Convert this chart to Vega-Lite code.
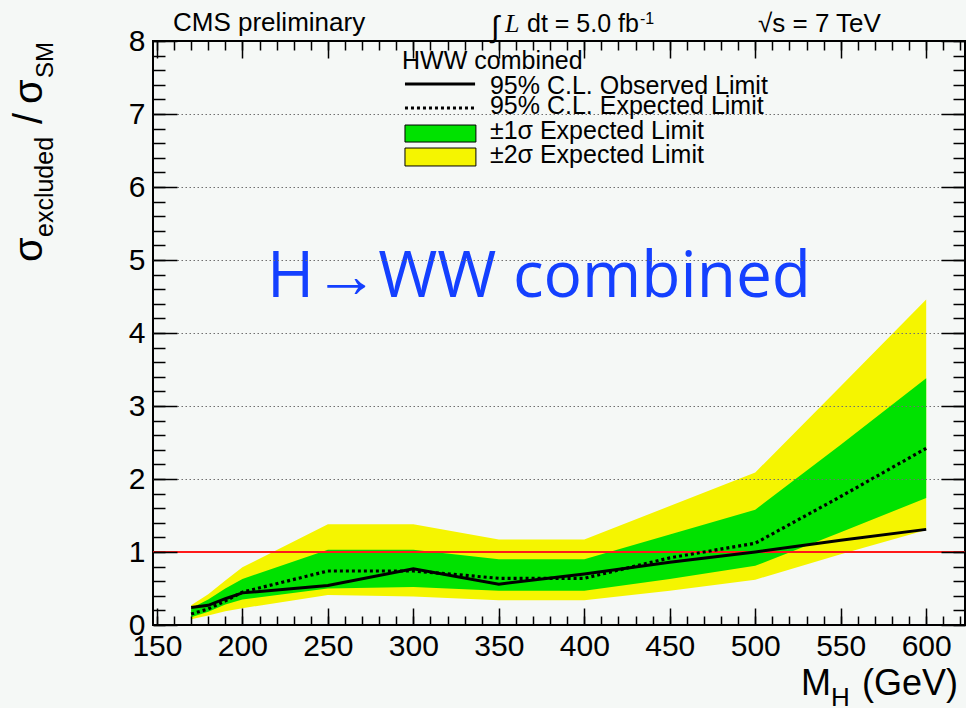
{
 "$schema": "https://vega.github.io/schema/vega-lite/v6.json",
 "width": 812, "height": 584,
 "autosize": {"type": "none"},
 "padding": {"left": 153, "top": 41, "right": 1, "bottom": 83},
 "background": "#f5f8f6",
 "config": {
  "view": {"stroke": "#000", "strokeWidth": 2, "fill": "#f5f8f6"},
  "axis": {"labelFont": "Liberation Sans", "labelColor": "#000", "tickColor": "#000", "tickWidth": 1.5, "domain": false, "grid": false, "labelFlush": false, "labelOverlap": false}
 },
 "datasets": {
  "lim": [
   {"mass": 170, "obs": 0.24, "exp": 0.15, "m2": 0.08, "m1": 0.105, "p1": 0.23, "p2": 0.27},
   {"mass": 180, "obs": 0.27, "exp": 0.22, "m2": 0.13, "m1": 0.18, "p1": 0.35, "p2": 0.42},
   {"mass": 190, "obs": 0.36, "exp": 0.33, "m2": 0.19, "m1": 0.28, "p1": 0.50, "p2": 0.61},
   {"mass": 200, "obs": 0.44, "exp": 0.45, "m2": 0.23, "m1": 0.35, "p1": 0.63, "p2": 0.79},
   {"mass": 250, "obs": 0.54, "exp": 0.74, "m2": 0.41, "m1": 0.50, "p1": 1.03, "p2": 1.38},
   {"mass": 300, "obs": 0.77, "exp": 0.74, "m2": 0.39, "m1": 0.52, "p1": 1.03, "p2": 1.38},
   {"mass": 350, "obs": 0.56, "exp": 0.64, "m2": 0.34, "m1": 0.47, "p1": 0.90, "p2": 1.17},
   {"mass": 400, "obs": 0.70, "exp": 0.64, "m2": 0.34, "m1": 0.47, "p1": 0.90, "p2": 1.17},
   {"mass": 450, "obs": 0.86, "exp": 0.92, "m2": 0.47, "m1": 0.63, "p1": 1.24, "p2": 1.63},
   {"mass": 500, "obs": 1.00, "exp": 1.12, "m2": 0.62, "m1": 0.81, "p1": 1.58, "p2": 2.09},
   {"mass": 550, "obs": 1.16, "exp": 1.76, "m2": 0.97, "m1": 1.27, "p1": 2.47, "p2": 3.27},
   {"mass": 600, "obs": 1.31, "exp": 2.42, "m2": 1.30, "m1": 1.74, "p1": 3.38, "p2": 4.46}
  ]
 },
 "resolve": {"axis": {"x": "independent", "y": "independent"}},
 "layer": [
  {"data": {"name": "lim"}, "mark": {"type": "area", "color": "#f5f500"},
   "encoding": {
    "x": {"field": "mass", "type": "quantitative", "scale": {"domain": [147.7, 622.7], "nice": false, "zero": false},
          "axis": {"orient": "bottom", "values": [150, 200, 250, 300, 350, 400, 450, 500, 550, 600], "ticks": false, "labelFontSize": 30, "labelPadding": 6, "title": null}},
    "y": {"field": "p2", "type": "quantitative", "scale": {"domain": [0, 8], "nice": false, "zero": false},
          "axis": {"orient": "left", "values": [0, 1, 2, 3, 4, 5, 6, 7, 8], "ticks": false, "labelFontSize": 30, "labelPadding": 8, "title": null}},
    "y2": {"field": "m2"}
   }},
  {"data": {"name": "lim"}, "mark": {"type": "area", "color": "#00e200"},
   "encoding": {
    "x": {"field": "mass", "type": "quantitative", "scale": {"domain": [147.7, 622.7], "nice": false, "zero": false},
          "axis": {"orient": "bottom", "values": [150, 200, 250, 300, 350, 400, 450, 500, 550, 600], "labels": false, "tickSize": -17, "title": null, "zindex": 1}},
    "y": {"field": "p1", "type": "quantitative", "scale": {"domain": [0, 8], "nice": false, "zero": false},
          "axis": {"orient": "left", "values": [0, 1, 2, 3, 4, 5, 6, 7, 8], "labels": false, "tickSize": -24, "title": null, "zindex": 1}},
    "y2": {"field": "m1"}
   }},
  {"data": {"values": [{}]}, "mark": {"type": "rule", "color": "#ff1a1a", "strokeWidth": 1.8},
   "encoding": {
    "y": {"datum": 1, "type": "quantitative", "scale": {"domain": [0, 8], "nice": false, "zero": false},
          "axis": {"orient": "left", "values": [0,0.2,0.4,0.6,0.8,1,1.2,1.4,1.6,1.8,2,2.2,2.4,2.6,2.8,3,3.2,3.4,3.6,3.8,4,4.2,4.4,4.6,4.8,5,5.2,5.4,5.6,5.8,6,6.2,6.4,6.6,6.8,7,7.2,7.4,7.6,7.8,8], "labels": false, "tickSize": -12, "title": null, "zindex": 1}}
   }},
  {"data": {"name": "lim"}, "mark": {"type": "line", "color": "#000", "strokeWidth": 3.2, "strokeDash": [3, 3]},
   "encoding": {
    "x": {"field": "mass", "type": "quantitative", "scale": {"domain": [147.7, 622.7], "nice": false, "zero": false},
          "axis": {"orient": "bottom", "values": [150,160,170,180,190,200,210,220,230,240,250,260,270,280,290,300,310,320,330,340,350,360,370,380,390,400,410,420,430,440,450,460,470,480,490,500,510,520,530,540,550,560,570,580,590,600,610,620], "labels": false, "tickSize": -9, "title": null, "zindex": 1}},
    "y": {"field": "exp", "type": "quantitative", "scale": {"domain": [0, 8], "nice": false, "zero": false},
          "axis": {"orient": "right", "values": [0, 1, 2, 3, 4, 5, 6, 7, 8], "labels": false, "tickSize": -24, "title": null, "zindex": 1}}
   }},
  {"data": {"name": "lim"}, "mark": {"type": "line", "color": "#000", "strokeWidth": 3},
   "encoding": {
    "x": {"field": "mass", "type": "quantitative", "scale": {"domain": [147.7, 622.7], "nice": false, "zero": false},
          "axis": {"orient": "top", "values": [150, 200, 250, 300, 350, 400, 450, 500, 550, 600], "labels": false, "tickSize": -17, "title": null, "zindex": 1}},
    "y": {"field": "obs", "type": "quantitative", "scale": {"domain": [0, 8], "nice": false, "zero": false},
          "axis": {"orient": "right", "values": [0,0.2,0.4,0.6,0.8,1,1.2,1.4,1.6,1.8,2,2.2,2.4,2.6,2.8,3,3.2,3.4,3.6,3.8,4,4.2,4.4,4.6,4.8,5,5.2,5.4,5.6,5.8,6,6.2,6.4,6.6,6.8,7,7.2,7.4,7.6,7.8,8], "labels": false, "tickSize": -12, "title": null, "zindex": 1}}
   }},
  {"data": {"values": [{}]}, "mark": {"type": "text", "text": "H→WW combined", "align": "center", "baseline": "alphabetic", "font": "Open Sans", "fontSize": 64, "color": "#1440ff"},
   "encoding": {
    "x": {"datum": 373.5, "type": "quantitative", "scale": {"domain": [147.7, 622.7], "nice": false, "zero": false},
          "axis": {"orient": "top", "values": [150,160,170,180,190,200,210,220,230,240,250,260,270,280,290,300,310,320,330,340,350,360,370,380,390,400,410,420,430,440,450,460,470,480,490,500,510,520,530,540,550,560,570,580,590,600,610,620], "labels": false, "tickSize": -9, "title": null, "zindex": 1}},
    "y": {"datum": 4.493, "type": "quantitative", "scale": {"domain": [0, 8], "nice": false, "zero": false},
          "axis": {"orient": "left", "values": [2, 3, 4, 5, 6, 7], "grid": true, "gridDash": [1.5, 2.5], "gridColor": "#707070", "gridWidth": 1, "ticks": false, "labels": false, "title": null, "zindex": 1}}
   }},
  {"data": {"values": [{}]}, "mark": {"type": "rule", "color": "#000", "strokeWidth": 3},
   "encoding": {"x": {"datum": 295.1, "type": "quantitative", "axis": null}, "x2": {"datum": 336.1}, "y": {"datum": 7.411, "type": "quantitative", "axis": null}}},
  {"data": {"values": [{}]}, "mark": {"type": "rule", "color": "#000", "strokeWidth": 3.2, "strokeDash": [3, 3]},
   "encoding": {"x": {"datum": 295.1, "type": "quantitative", "axis": null}, "x2": {"datum": 336.1}, "y": {"datum": 7.082, "type": "quantitative", "axis": null}}},
  {"data": {"values": [{}]}, "mark": {"type": "rect", "color": "#00e200", "stroke": "#000", "strokeWidth": 1},
   "encoding": {"x": {"datum": 295.1, "type": "quantitative", "axis": null}, "x2": {"datum": 336.6}, "y": {"datum": 6.849, "type": "quantitative", "axis": null}, "y2": {"datum": 6.616}}},
  {"data": {"values": [{}]}, "mark": {"type": "rect", "color": "#f5f500", "stroke": "#000", "strokeWidth": 1},
   "encoding": {"x": {"datum": 295.1, "type": "quantitative", "axis": null}, "x2": {"datum": 336.6}, "y": {"datum": 6.534, "type": "quantitative", "axis": null}, "y2": {"datum": 6.288}}},
  {"data": {"values": [{}]}, "mark": {"type": "text", "text": "HWW combined", "align": "left", "baseline": "alphabetic", "font": "Liberation Sans", "fontSize": 25, "color": "#000"},
   "encoding": {"x": {"datum": 293.4, "type": "quantitative", "axis": null}, "y": {"datum": 7.612, "type": "quantitative", "axis": null}}},
  {"data": {"values": [{}]}, "mark": {"type": "text", "text": "95% C.L. Observed Limit", "align": "left", "baseline": "alphabetic", "font": "Liberation Sans", "fontSize": 25, "color": "#000"},
   "encoding": {"x": {"datum": 344.8, "type": "quantitative", "axis": null}, "y": {"datum": 7.274, "type": "quantitative", "axis": null}}},
  {"data": {"values": [{}]}, "mark": {"type": "text", "text": "95% C.L. Expected Limit", "align": "left", "baseline": "alphabetic", "font": "Liberation Sans", "fontSize": 25, "color": "#000"},
   "encoding": {"x": {"datum": 344.8, "type": "quantitative", "axis": null}, "y": {"datum": 7.0, "type": "quantitative", "axis": null}}},
  {"data": {"values": [{}]}, "mark": {"type": "text", "text": "±1σ Expected Limit", "align": "left", "baseline": "alphabetic", "font": "Liberation Sans", "fontSize": 25, "color": "#000"},
   "encoding": {"x": {"datum": 344.8, "type": "quantitative", "axis": null}, "y": {"datum": 6.653, "type": "quantitative", "axis": null}}},
  {"data": {"values": [{}]}, "mark": {"type": "text", "text": "±2σ Expected Limit", "align": "left", "baseline": "alphabetic", "font": "Liberation Sans", "fontSize": 25, "color": "#000"},
   "encoding": {"x": {"datum": 344.8, "type": "quantitative", "axis": null}, "y": {"datum": 6.325, "type": "quantitative", "axis": null}}},
  {"data": {"values": [{}]}, "mark": {"type": "text", "text": "CMS preliminary", "align": "left", "baseline": "alphabetic", "font": "Liberation Sans", "fontSize": 26, "color": "#000"},
   "encoding": {"x": {"datum": 159.4, "type": "quantitative", "axis": null}, "y": {"datum": 8.137, "type": "quantitative", "axis": null}}},
  {"data": {"values": [{}]}, "mark": {"type": "text", "text": "∫", "align": "left", "baseline": "alphabetic", "font": "Liberation Sans", "fontSize": 30, "color": "#000"},
   "encoding": {"x": {"datum": 345.4, "type": "quantitative", "axis": null}, "y": {"datum": 8.055, "type": "quantitative", "axis": null}}},
  {"data": {"values": [{}]}, "mark": {"type": "text", "text": "L", "align": "left", "baseline": "alphabetic", "font": "Liberation Serif", "fontStyle": "italic", "fontSize": 26, "color": "#000"},
   "encoding": {"x": {"datum": 353.6, "type": "quantitative", "axis": null}, "y": {"datum": 8.128, "type": "quantitative", "axis": null}}},
  {"data": {"values": [{}]}, "mark": {"type": "text", "text": "dt = 5.0 fb", "align": "left", "baseline": "alphabetic", "font": "Liberation Sans", "fontSize": 25, "color": "#000"},
   "encoding": {"x": {"datum": 366.5, "type": "quantitative", "axis": null}, "y": {"datum": 8.128, "type": "quantitative", "axis": null}}},
  {"data": {"values": [{}]}, "mark": {"type": "text", "text": "-1", "align": "left", "baseline": "alphabetic", "font": "Liberation Sans", "fontSize": 16, "color": "#000"},
   "encoding": {"x": {"datum": 432.6, "type": "quantitative", "axis": null}, "y": {"datum": 8.233, "type": "quantitative", "axis": null}}},
  {"data": {"values": [{}]}, "mark": {"type": "text", "text": "√s = 7 TeV", "align": "left", "baseline": "alphabetic", "font": "Liberation Sans", "fontSize": 26, "color": "#000"},
   "encoding": {"x": {"datum": 501.6, "type": "quantitative", "axis": null}, "y": {"datum": 8.123, "type": "quantitative", "axis": null}}},
  {"data": {"values": [{}]}, "mark": {"type": "text", "text": "M", "align": "left", "baseline": "alphabetic", "font": "Liberation Sans", "fontSize": 36, "color": "#000"},
   "encoding": {"x": {"datum": 526.8, "type": "quantitative", "axis": null}, "y": {"datum": -0.96, "type": "quantitative", "axis": null}}},
  {"data": {"values": [{}]}, "mark": {"type": "text", "text": "H", "align": "left", "baseline": "alphabetic", "font": "Liberation Sans", "fontSize": 26, "color": "#000"},
   "encoding": {"x": {"datum": 544.3, "type": "quantitative", "axis": null}, "y": {"datum": -1.11, "type": "quantitative", "axis": null}}},
  {"data": {"values": [{}]}, "mark": {"type": "text", "text": "(GeV)", "align": "left", "baseline": "alphabetic", "font": "Liberation Sans", "fontSize": 36, "color": "#000"},
   "encoding": {"x": {"datum": 562.4, "type": "quantitative", "axis": null}, "y": {"datum": -0.96, "type": "quantitative", "axis": null}}},
  {"data": {"values": [{}]}, "mark": {"type": "text", "text": "σ", "angle": 270, "align": "left", "baseline": "alphabetic", "font": "Liberation Sans", "fontSize": 40, "color": "#000"},
   "encoding": {"x": {"datum": 82.8, "type": "quantitative", "axis": null}, "y": {"datum": 4.973, "type": "quantitative", "axis": null}}},
  {"data": {"values": [{}]}, "mark": {"type": "text", "text": "excluded", "angle": 270, "align": "left", "baseline": "alphabetic", "font": "Liberation Sans", "fontSize": 25, "color": "#000"},
   "encoding": {"x": {"datum": 89.2, "type": "quantitative", "axis": null}, "y": {"datum": 5.315, "type": "quantitative", "axis": null}}},
  {"data": {"values": [{}]}, "mark": {"type": "text", "text": "/", "angle": 270, "align": "left", "baseline": "alphabetic", "font": "Liberation Sans", "fontSize": 40, "color": "#000"},
   "encoding": {"x": {"datum": 82.8, "type": "quantitative", "axis": null}, "y": {"datum": 6.863, "type": "quantitative", "axis": null}}},
  {"data": {"values": [{}]}, "mark": {"type": "text", "text": "σ", "angle": 270, "align": "left", "baseline": "alphabetic", "font": "Liberation Sans", "fontSize": 40, "color": "#000"},
   "encoding": {"x": {"datum": 82.8, "type": "quantitative", "axis": null}, "y": {"datum": 7.137, "type": "quantitative", "axis": null}}},
  {"data": {"values": [{}]}, "mark": {"type": "text", "text": "SM", "angle": 270, "align": "left", "baseline": "alphabetic", "font": "Liberation Sans", "fontSize": 24, "color": "#000"},
   "encoding": {"x": {"datum": 89.2, "type": "quantitative", "axis": null}, "y": {"datum": 7.493, "type": "quantitative", "axis": null}}}
 ]
}
